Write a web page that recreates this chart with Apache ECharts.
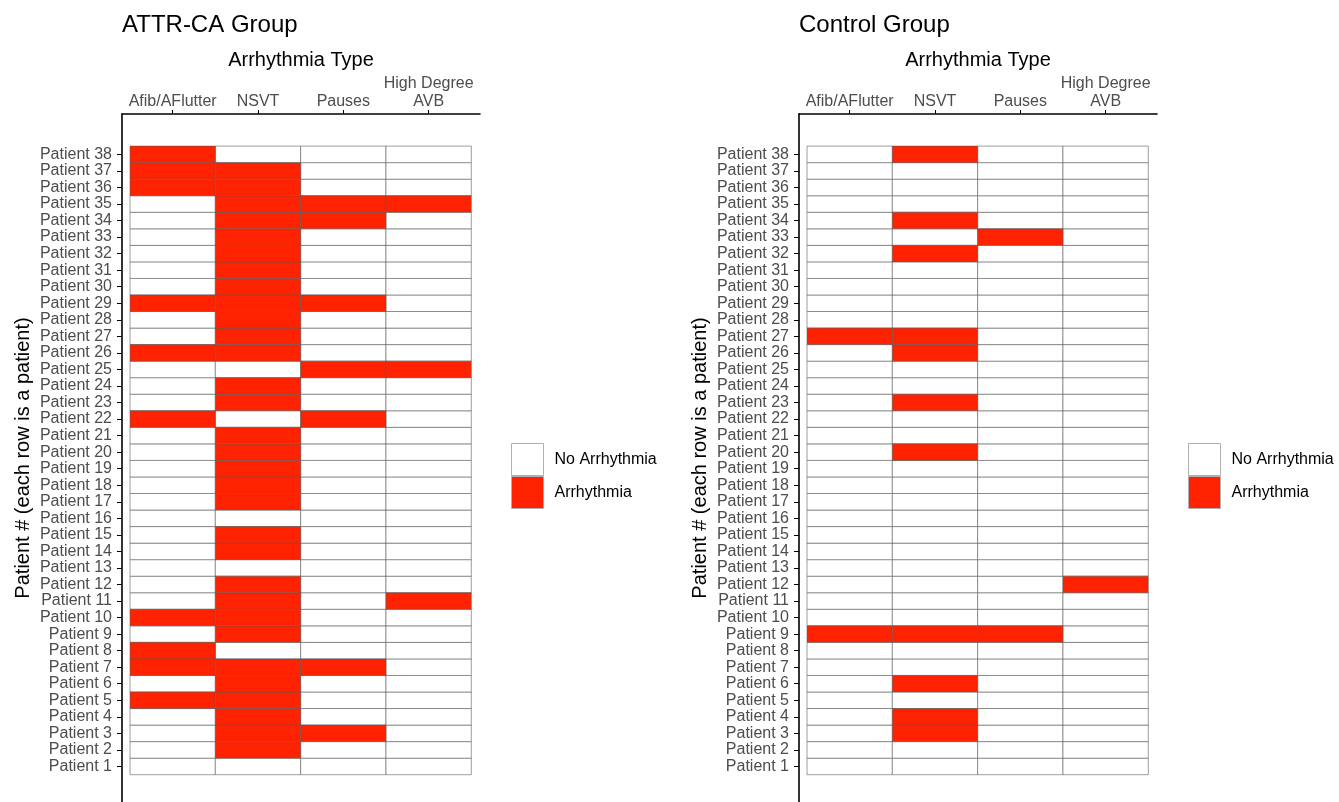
<!DOCTYPE html>
<html>
<head>
<meta charset="utf-8">
<title>Arrhythmia by patient</title>
<script src="https://cdn.jsdelivr.net/npm/echarts@6/dist/echarts.min.js"></script>
<style>
    html, body { margin: 0; padding: 0; background: #fff; }
    #chart { width: 1339px; height: 802px; }
</style>
</head>
<body>
<div id="chart"></div>
<script>
// arrhythmia types (x axis)
const types = ['Afib/AFlutter', 'NSVT', 'Pauses', 'High Degree\nAVB'];
// patient numbers (y axis), 1 at the bottom
const patients = [];
for (let i = 1; i <= 38; i++) patients.push(i);

// 1 = arrhythmia, 0 = none; each array is patient 1 -> 38
const attrAfib   = [0,0,0,0,1,0,1,1,0,1, 0,0,0,0,0,0,0,0,0,0, 0,1,0,0,0,1,0,0,1,0, 0,0,0,0,0,1,1,1];
const attrNsvt   = [0,1,1,1,1,1,1,0,1,1, 1,1,0,1,1,0,1,1,1,1, 1,0,1,1,0,1,1,1,1,1, 1,1,1,1,1,1,1,0];
const attrPauses = [0,0,1,0,0,0,1,0,0,0, 0,0,0,0,0,0,0,0,0,0, 0,1,0,0,1,0,0,0,1,0, 0,0,0,1,1,0,0,0];
const attrAvb    = [0,0,0,0,0,0,0,0,0,0, 1,0,0,0,0,0,0,0,0,0, 0,0,0,0,1,0,0,0,0,0, 0,0,0,0,1,0,0,0];

const ctrlAfib   = [0,0,0,0,0,0,0,0,1,0, 0,0,0,0,0,0,0,0,0,0, 0,0,0,0,0,0,1,0,0,0, 0,0,0,0,0,0,0,0];
const ctrlNsvt   = [0,0,1,1,0,1,0,0,1,0, 0,0,0,0,0,0,0,0,0,1, 0,0,1,0,0,1,1,0,0,0, 0,1,0,1,0,0,0,1];
const ctrlPauses = [0,0,0,0,0,0,0,0,1,0, 0,0,0,0,0,0,0,0,0,0, 0,0,0,0,0,0,0,0,0,0, 0,0,1,0,0,0,0,0];
const ctrlAvb    = [0,0,0,0,0,0,0,0,0,0, 0,1,0,0,0,0,0,0,0,0, 0,0,0,0,0,0,0,0,0,0, 0,0,0,0,0,0,0,0];

const attrGroup = [attrAfib, attrNsvt, attrPauses, attrAvb];
const ctrlGroup = [ctrlAfib, ctrlNsvt, ctrlPauses, ctrlAvb];

const FONT = '"Liberation Sans", Arial, sans-serif';
const RED = '#FF2200';

// cells of one group with the given value -> [typeIndex, patient]
const cellsOf = (group, flag) => {
    const out = [];
    group.forEach((col, t) => {
        col.forEach((v, i) => {
            if (v === flag) out.push([t, patients[i]]);
        });
    });
    return out;
};

const renderCell = (params, api) => {
    const x = api.value(0);
    const y = api.value(1);
    const p0 = api.coord([x - 0.5, y + 0.5]);
    const p1 = api.coord([x + 0.5, y - 0.5]);
    return {
        type: 'rect',
        shape: { x: p0[0], y: p0[1], width: p1[0] - p0[0], height: p1[1] - p0[1] },
        style: { fill: api.visual('color'), stroke: 'rgba(90,90,90,0.65)', lineWidth: 0.9 }
    };
};

const xAxisFor = (idx) => ({
    type: 'value',
    gridIndex: idx,
    position: 'top',
    min: -0.594,
    max: 3.602,
    name: 'Arrhythmia Type',
    nameLocation: 'middle',
    nameGap: 39,
    nameTextStyle: { fontFamily: FONT, fontSize: 20, color: '#000' },
    axisLine: { onZero: false, lineStyle: { color: '#000', width: 1.6 } },
    axisTick: { length: 4, customValues: [0, 1, 2, 3], lineStyle: { color: '#000', width: 1 } },
    axisLabel: {
        customValues: [0, 1, 2, 3],
        formatter: (v) => types[Math.round(v)],
        fontFamily: FONT, fontSize: 16, lineHeight: 18, color: '#4D4D4D', margin: 3
    },
    splitLine: { show: false }
});

const yAxisFor = (idx) => ({
    type: 'value',
    gridIndex: idx,
    min: -1.15,
    max: 40.44,
    name: 'Patient # (each row is a patient)',
    nameLocation: 'middle',
    nameGap: 89,
    nameTextStyle: { fontFamily: FONT, fontSize: 20, color: '#000' },
    axisLine: { show: true, onZero: false, lineStyle: { color: '#000', width: 1.6 } },
    axisTick: { show: true, length: 5, customValues: patients, lineStyle: { color: '#000', width: 1 } },
    axisLabel: {
        customValues: patients,
        formatter: (v) => 'Patient ' + Math.round(v),
        fontFamily: FONT, fontSize: 16, color: '#4D4D4D', margin: 10
    },
    splitLine: { show: false }
});

const legendFor = (left) => ({
    left: left,
    top: 443,
    orient: 'vertical',
    icon: 'rect',
    itemWidth: 32,
    itemHeight: 32,
    itemGap: 0,
    padding: 0,
    selectedMode: false,
    textStyle: { fontFamily: FONT, fontSize: 16, color: '#000', padding: [0, 0, 0, 6] },
    data: [
        { name: 'No Arrhythmia', itemStyle: { color: '#fff', borderColor: '#b0b0b0', borderWidth: 1 } },
        { name: 'Arrhythmia', itemStyle: { color: RED, borderColor: '#b0b0b0', borderWidth: 1 } }
    ]
});

const seriesFor = (group, idx) => [
    {
        name: 'No Arrhythmia', type: 'custom', xAxisIndex: idx, yAxisIndex: idx,
        itemStyle: { color: '#fff' }, renderItem: renderCell, data: cellsOf(group, 0)
    },
    {
        name: 'Arrhythmia', type: 'custom', xAxisIndex: idx, yAxisIndex: idx,
        itemStyle: { color: RED }, renderItem: renderCell, data: cellsOf(group, 1)
    }
];

const chart = echarts.init(document.getElementById('chart'));
const option = {
    backgroundColor: '#fff',
    animation: false,
    title: [
        { text: 'ATTR-CA Group', left: 122, top: 13, padding: 0,
          textStyle: { fontFamily: FONT, fontSize: 24, fontWeight: 'normal', color: '#000' } },
        { text: 'Control Group', left: 799, top: 13, padding: 0,
          textStyle: { fontFamily: FONT, fontSize: 24, fontWeight: 'normal', color: '#000' } }
    ],
    grid: [
        { left: 122, top: 114, width: 358, height: 690 },
        { left: 799, top: 114, width: 358, height: 690 }
    ],
    legend: [legendFor(511), legendFor(1188)],
    xAxis: [xAxisFor(0), xAxisFor(1)],
    yAxis: [yAxisFor(0), yAxisFor(1)],
    series: [...seriesFor(attrGroup, 0), ...seriesFor(ctrlGroup, 1)]
};
chart.setOption(option);
</script>
</body>
</html>
